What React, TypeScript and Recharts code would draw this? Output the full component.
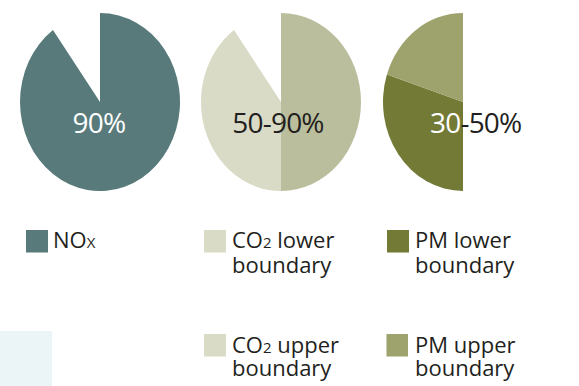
import React from "react";
import { PieChart, Pie, Cell } from "recharts";

// share of emissions reduced, slices clockwise from 12 o'clock
const noxSlices = ["NOx", "rest"];
const noxValues = [90, 10];
const co2Slices = ["CO2 lower", "CO2 upper", "rest"];
const co2Values = [50, 40, 10];
const pmSlices = ["rest", "PM lower", "PM upper"];
const pmValues = [50, 30, 20];

const rangeLabels = ["90%", "50-90%", "30-50%"];

const COLORS: Record<string, string> = {
  NOx: "#587a7b",
  "CO2 lower": "#babe9d",
  "CO2 upper": "#d9dbc6",
  "PM lower": "#737a35",
  "PM upper": "#9ea26c",
  rest: "none",
};

const FONT = "'Open Sans', 'Noto Sans', sans-serif";
const CY = 102;
const RX = 80;
const RY = 89;

function toRows(names: string[], values: number[]) {
  return names.map((name, i) => ({ name, value: values[i] }));
}

function Disc({ cx, names, values }: { cx: number; names: string[]; values: number[] }) {
  const rows = toRows(names, values);
  return (
    <div
      style={{
        position: "absolute",
        left: cx - RX,
        top: CY - RX,
        width: RX * 2,
        height: RX * 2,
        transform: `scaleY(${RY / RX})`,
        transformOrigin: "50% 50%",
      }}
    >
      <PieChart width={RX * 2} height={RX * 2} margin={{ top: 0, right: 0, bottom: 0, left: 0 }}>
        <Pie
          data={rows}
          dataKey="value"
          cx={RX}
          cy={RX}
          outerRadius={RX}
          innerRadius={0}
          startAngle={90}
          endAngle={-270}
          stroke="none"
          isAnimationActive={false}
        >
          {rows.map((r) => (
            <Cell key={r.name} fill={COLORS[r.name]} />
          ))}
        </Pie>
      </PieChart>
    </div>
  );
}

function Sub({ children }: { children: React.ReactNode }) {
  return <tspan fontSize={15}>{children}</tspan>;
}

export default function App() {
  const txt = { fontFamily: FONT, fontSize: 22, fill: "#231f20" } as const;
  const big = { fontFamily: FONT, fontSize: 28, letterSpacing: -0.8 } as const;
  return (
    <div style={{ position: "absolute", left: 0, top: 0, width: 579, height: 386, background: "#fff", overflow: "hidden" }}>
      <Disc cx={99.5} names={noxSlices} values={noxValues} />
      <Disc cx={280.7} names={co2Slices} values={co2Values} />
      <Disc cx={462.7} names={pmSlices} values={pmValues} />

      <svg width={579} height={386} style={{ position: "absolute", left: 0, top: 0 }}>
        <text x={99} y={133} textAnchor="middle" fill="#ffffff" {...big}>
          {rangeLabels[0]}
        </text>
        <text x={278} y={133} textAnchor="middle" fill="#231f20" {...big}>
          {rangeLabels[1]}
        </text>
        <text x={430} y={133} {...big}>
          <tspan fill="#ffffff">{rangeLabels[2].split("-")[0]}</tspan>
          <tspan fill="#231f20">{"-" + rangeLabels[2].split("-")[1]}</tspan>
        </text>

        {/* legend */}
        <rect x={26} y={230} width={22} height={22.5} fill={COLORS.NOx} />
        <text x={53} y={248} {...txt}>
          NO<Sub>X</Sub>
        </text>

        <rect x={204} y={230} width={22} height={22.5} fill={COLORS["CO2 upper"]} />
        <text x={232} y={248} {...txt}>
          CO<Sub>2</Sub> lower
        </text>
        <text x={232} y={272.5} {...txt}>boundary</text>

        <rect x={387} y={230} width={22} height={22.5} fill={COLORS["PM lower"]} />
        <text x={415} y={248} {...txt}>PM lower</text>
        <text x={415} y={272.5} {...txt}>boundary</text>

        <rect x={204} y={334} width={22} height={22.5} fill={COLORS["CO2 upper"]} />
        <text x={232} y={352.5} {...txt}>
          CO<Sub>2</Sub> upper
        </text>
        <text x={232} y={376} {...txt}>boundary</text>

        <rect x={386.5} y={334} width={21.5} height={22.5} fill={COLORS["PM upper"]} />
        <text x={415} y={352.5} {...txt}>PM upper</text>
        <text x={415} y={376} {...txt}>boundary</text>

        <rect x={0} y={331} width={52} height={55} fill="#ebf4f6" />
      </svg>
    </div>
  );
}
